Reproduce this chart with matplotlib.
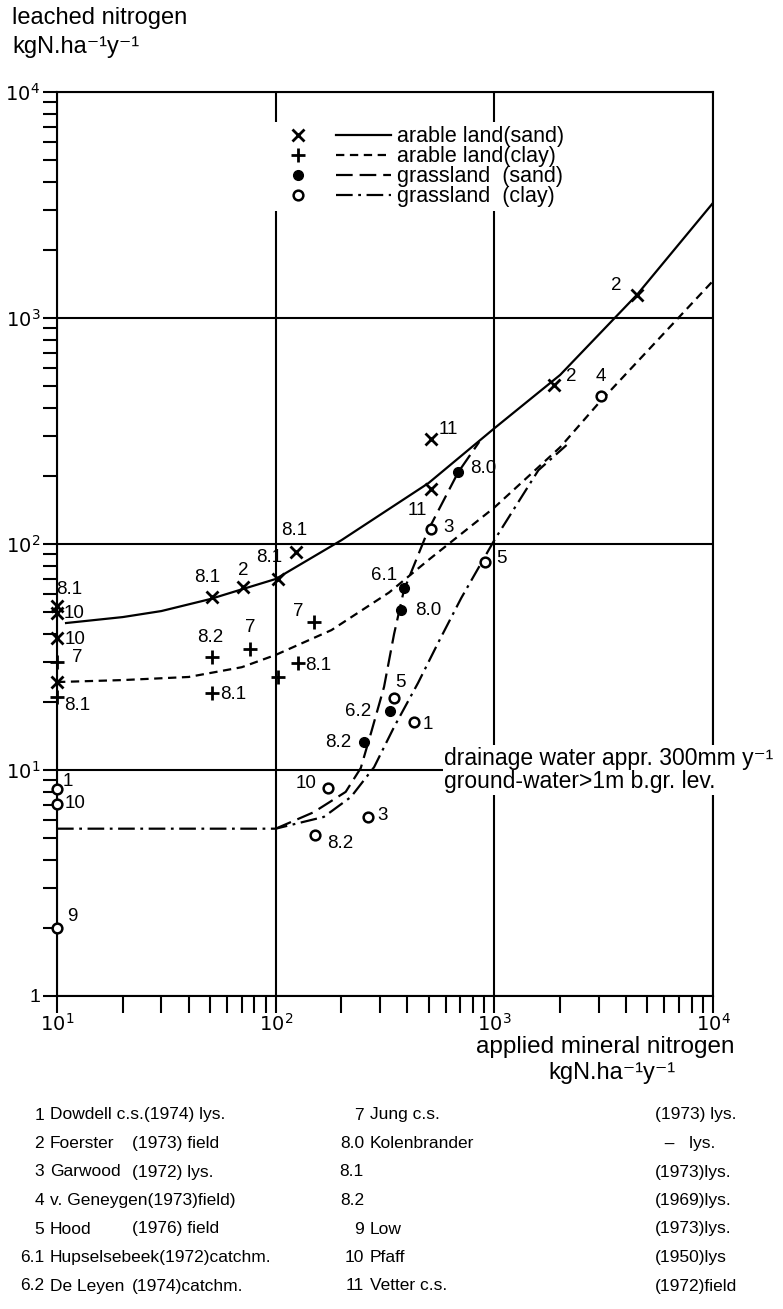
import matplotlib
matplotlib.use("Agg")
import matplotlib.pyplot as plt
from matplotlib import font_manager
from matplotlib.lines import Line2D
from matplotlib.legend_handler import HandlerTuple

# values, kg N per ha per year
# measured points: applied (x) / leached (y), reference number as label
arable_sand_x = [10, 10, 10, 10, 51, 71, 102, 124, 514, 514, 1866, 4478]
arable_sand_y = [53, 49.5, 38.4, 24.5, 58, 64.5, 70, 92, 175, 292, 506, 1264]
arable_sand_lbl = ['8.1', '10', '10', '', '8.1', '2', '8.1', '8.1', '11', '11', '2', '2']

arable_clay_x = [10, 10, 51.4, 76.7, 103, 126, 149, 51.4]
arable_clay_y = [30.1, 21.0, 31.6, 34.3, 25.8, 29.7, 45.2, 21.9]
arable_clay_lbl = ['7', '8.1', '8.2', '7', '', '8.1', '7', '8.1']

grass_sand_x = [254, 333, 374, 386, 684]
grass_sand_y = [13.3, 18.2, 51, 63.8, 208]
grass_sand_lbl = ['8.2', '6.2', '8.0', '6.1', '8.0']

grass_clay_x = [10, 10, 10, 152, 173, 264, 348, 429, 514, 910, 3062]
grass_clay_y = [8.2, 7.1, 2.0, 5.15, 8.3, 6.2, 20.8, 16.3, 116, 83, 452]
grass_clay_lbl = ['1', '10', '9', '8.2', '10', '3', '5', '1', '3', '5', '4']

# fitted curves (hand drawn in the original)
sand_curve_x = [11, 20, 30, 50, 70, 100, 200, 500, 1000, 2000, 4500, 10000]
sand_curve_y = [44.7, 47.5, 50.5, 57, 63, 70, 104, 186, 325, 560, 1270, 3230]
clay_curve_x = [10, 20, 40, 70, 100, 180, 330, 500, 1000, 2000, 3000, 10000]
clay_curve_y = [24.5, 25, 25.8, 28.5, 32.3, 41.6, 61, 85, 145, 268, 420, 1460]
gsand_curve_x = [100, 149, 209, 245, 273, 313, 348, 386, 498, 684, 853]
gsand_curve_y = [5.5, 6.5, 8.0, 10.2, 14.6, 23.3, 40, 62.5, 115, 208, 283]
gclay_curve_x = [10, 100, 166, 221, 282, 348, 448, 553, 706, 1000, 1590, 2140]
gclay_curve_y = [5.5, 5.5, 6.2, 7.6, 10.3, 15.5, 24.3, 36.5, 57.7, 104, 212, 274]

legend_labels = ['arable land(sand)', 'arable land(clay)', 'grassland  (sand)', 'grassland  (clay)']

left_refs = [('1', 'Dowdell c.s.(1974) lys.', ''),
             ('2', 'Foerster', '(1973) field'),
             ('3', 'Garwood', '(1972) lys.'),
             ('4', 'v. Geneygen(1973)field)', ''),
             ('5', 'Hood', '(1976) field'),
             ('6.1', 'Hupselsebeek(1972)catchm.', ''),
             ('6.2', 'De Leyen', '(1974)catchm.')]
right_refs = [('7', 'Jung c.s.', '(1973) lys.'),
              ('8.0', 'Kolenbrander', '  \u2013   lys.'),
              ('8.1', '', '(1973)lys.'),
              ('8.2', '', '(1969)lys.'),
              ('9', 'Low', '(1973)lys.'),
              ('10', 'Pfaff', '(1950)lys'),
              ('11', 'Vetter c.s.', '(1972)field')]

# label offsets in pixels from each marker
sand_off = [(12, 17), (17, 0), (18, -2), (0, 0), (-5, 20), (0, 17), (-8, 22), (-2, 22),
            (-14, -21), (17, 9), (18, 8), (-20, 10)]
clay_off = [(20, 4), (20, -8), (-2, 20), (0, 22), (0, 0), (21, -2), (-15, 10), (21, -1)]
gsand_off = [(-26, 0), (-32, 0), (27, 0), (-20, 13), (25, 4)]
gclay_off = [(11, 8), (18, 0), (15, 11), (25, -8), (-22, 5), (15, 1), (6, 16), (14, -2),
             (17, 2), (16, 4), (0, 19)]

try:
    font_manager.findfont('Liberation Sans Narrow', fallback_to_default=False)
    fam = 'Liberation Sans Narrow'
except ValueError:
    fam = 'Liberation Sans'
plt.rcParams['font.family'] = [fam, 'DejaVu Sans']
plt.rcParams['lines.scale_dashes'] = False

W, H = 783, 1309
def fx(px):
    return px / W
def fy(py):
    return 1 - py / H

fig = plt.figure(figsize=(W / 100, H / 100), dpi=100)
ax = fig.add_axes([fx(57), fy(996), (713 - 57) / W, (996 - 92) / H])
ax.set_xscale('log')
ax.set_yscale('log')
ax.set_xlim(10, 1e4)
ax.set_ylim(1, 1e4)
ax.set_axisbelow(True)
ax.grid(which='major', color='black', lw=1.5)
for s in ax.spines.values():
    s.set_linewidth(1.5)

ax.set_xticks([10, 100, 1000, 10000], [r'$10^1$', r'$10^2$', r'$10^3$', r'$10^4$'], fontsize=14)
ax.set_yticks([1, 10, 100, 1000, 10000], ['1', r'$10^1$', r'$10^2$', r'$10^3$', r'$10^4$'], fontsize=14)
ax.tick_params(axis='x', which='both', direction='out', length=12, width=1.5, pad=0)
ax.tick_params(axis='y', which='both', direction='out', length=10, width=1.5, pad=2)
ax.tick_params(which='minor', labelbottom=False, labelleft=False)

styles = {
    'sand': dict(ls='-'),
    'clay': dict(ls=(0, (6, 4))),
    'gsand': dict(ls=(0, (12, 5))),
    'gclay': dict(ls=(0, (12, 4, 2, 4))),
}
ax.plot(sand_curve_x, sand_curve_y, color='k', lw=1.6, **styles['sand'])
ax.plot(clay_curve_x, clay_curve_y, color='k', lw=1.6, **styles['clay'])
ax.plot(gsand_curve_x, gsand_curve_y, color='k', lw=1.6, **styles['gsand'])
ax.plot(gclay_curve_x, gclay_curve_y, color='k', lw=1.6, **styles['gclay'])

mk = {
    'sand': dict(marker='x', ms=9, mew=2, color='k'),
    'clay': dict(marker='+', ms=10, mew=2, color='k'),
    'gsand': dict(marker='o', ms=7, color='k'),
    'gclay': dict(marker='o', ms=7, mew=1.8, mfc='white', mec='k'),
}
series = [
    (arable_sand_x, arable_sand_y, arable_sand_lbl, sand_off, 'sand'),
    (arable_clay_x, arable_clay_y, arable_clay_lbl, clay_off, 'clay'),
    (grass_sand_x, grass_sand_y, grass_sand_lbl, gsand_off, 'gsand'),
    (grass_clay_x, grass_clay_y, grass_clay_lbl, gclay_off, 'gclay'),
]
for xs, ys, lbls, offs, key in series:
    ax.plot(xs, ys, ls='none', clip_on=False, zorder=4, **mk[key])
    for x, y, lbl, off in zip(xs, ys, lbls, offs):
        if lbl:
            ax.annotate(lbl, (x, y), xytext=off, textcoords='offset pixels',
                        ha='center', va='center', fontsize=13.5, annotation_clip=False)

handles = [(Line2D([], [], ls='none', **mk[k]), Line2D([], [], color='k', lw=1.6, **styles[k]))
           for k in ['sand', 'clay', 'gsand', 'gclay']]
leg = ax.legend(handles, legend_labels, handler_map={tuple: HandlerTuple(ndivide=None, pad=0.5)},
                loc='upper left', bbox_to_anchor=((266 - 57) / 656, (996 - 122) / 904),
                fontsize=15.5, handlelength=5.6, handletextpad=0.3, labelspacing=-0.05,
                borderpad=0.2, borderaxespad=0, fancybox=False, facecolor='white',
                edgecolor='none', framealpha=1)

ax.text(590, 10, 'drainage water appr. 300mm y\u207b\u00b9\nground-water>1m b.gr. lev.',
        ha='left', va='center', fontsize=16.5, linespacing=1.05, clip_on=False, zorder=3,
        bbox=dict(fc='white', ec='none', pad=1))

fig.text(fx(12), fy(18), 'leached nitrogen', ha='left', va='center', fontsize=17)
fig.text(fx(12), fy(47), 'kgN.ha\u207b\u00b9y\u207b\u00b9', ha='left', va='center', fontsize=17)
fig.text(fx(605), fy(1047), 'applied mineral nitrogen', ha='center', va='center', fontsize=17.5)
fig.text(fx(612), fy(1073), 'kgN.ha\u207b\u00b9y\u207b\u00b9', ha='center', va='center', fontsize=17)

for i, (num, name, src) in enumerate(left_refs):
    y = fy(1115 + 28.5 * i)
    fig.text(fx(44), y, num, ha='right', va='center', fontsize=12.5)
    fig.text(fx(50), y, name, ha='left', va='center', fontsize=12.5)
    fig.text(fx(132), y, src, ha='left', va='center', fontsize=12.5)
for i, (num, name, src) in enumerate(right_refs):
    y = fy(1115 + 28.5 * i)
    fig.text(fx(364), y, num, ha='right', va='center', fontsize=12.5)
    fig.text(fx(370), y, name, ha='left', va='center', fontsize=12.5)
    fig.text(fx(655), y, src, ha='left', va='center', fontsize=12.5)

fig.savefig('out.png', dpi=100)
